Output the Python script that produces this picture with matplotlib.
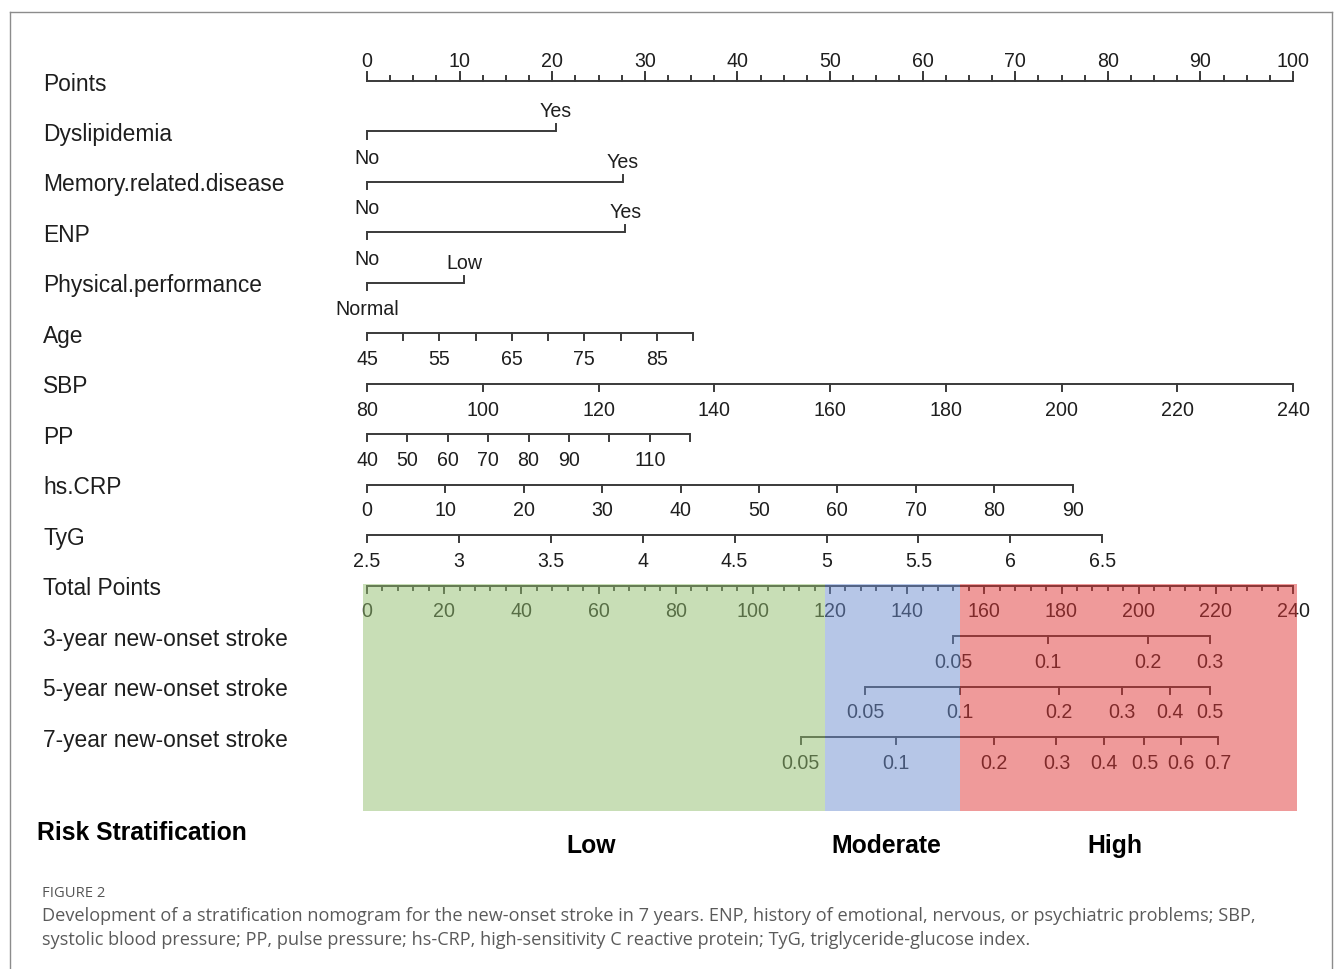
# nomogram for new-onset stroke with risk stratification bands
import numpy as np
import matplotlib.pyplot as plt
from matplotlib.patches import Rectangle

plt.rcParams['font.family'] = ['Liberation Sans', 'DejaVu Sans']

##### values #####
row_names = ['Points', 'Dyslipidemia', 'Memory.related.disease', 'ENP',
             'Physical.performance', 'Age', 'SBP', 'PP', 'hs.CRP', 'TyG',
             'Total Points', '3-year new-onset stroke',
             '5-year new-onset stroke', '7-year new-onset stroke']

points_major = np.arange(0, 101, 10)
points_minor = np.arange(0, 100.01, 2.5)

# categorical predictors: levels and their points
dys_levels = ['No', 'Yes']
dys_points = [0, 20.4]
mem_levels = ['No', 'Yes']
mem_points = [0, 27.6]
enp_levels = ['No', 'Yes']
enp_points = [0, 27.9]
phys_levels = ['Normal', 'Low']
phys_points = [0, 10.5]

# continuous predictors: tick values, tick labels, points at the last tick
age_ticks = [45, 50, 55, 60, 65, 70, 75, 80, 85, 90]
age_labels = ['45', '', '55', '', '65', '', '75', '', '85', '']
age_max_points = 35.2

sbp_ticks = [80, 100, 120, 140, 160, 180, 200, 220, 240]
sbp_labels = ['80', '100', '120', '140', '160', '180', '200', '220', '240']
sbp_max_points = 100

pp_ticks = [40, 50, 60, 70, 80, 90, 100, 110, 120]
pp_labels = ['40', '50', '60', '70', '80', '90', '', '110', '']
pp_max_points = 34.9

crp_ticks = [0, 10, 20, 30, 40, 50, 60, 70, 80, 90]
crp_labels = ['0', '10', '20', '30', '40', '50', '60', '70', '80', '90']
crp_max_points = 76.2

tyg_ticks = [2.5, 3, 3.5, 4, 4.5, 5, 5.5, 6, 6.5]
tyg_labels = ['2.5', '3', '3.5', '4', '4.5', '5', '5.5', '6', '6.5']
tyg_max_points = 79.4

total_max = 240
total_major = np.arange(0, 241, 20)
total_minor = np.arange(0, 241, 4)

# risk scales: total points at each probability label
risk3_labels = ['0.05', '0.1', '0.2', '0.3']
risk3_total = [152.0, 176.6, 202.4, 218.4]
risk5_labels = ['0.05', '0.1', '0.2', '0.3', '0.4', '0.5']
risk5_total = [129.2, 153.8, 179.4, 195.7, 208.0, 218.4]
risk7_labels = ['0.05', '0.1', '0.2', '0.3', '0.4', '0.5', '0.6', '0.7']
risk7_total = [112.4, 137.1, 162.6, 178.7, 191.0, 201.5, 211.0, 220.5]

# risk strata on the total points scale
strata_names = ['Low', 'Moderate', 'High']
strata_cuts = [0, 118.7, 153.8, 240]
strata_colors = ['#93bf6f', '#6f8fd1', '#e13737']

caption_head = 'FIGURE 2'
caption_lines = [
    'Development of a stratification nomogram for the new-onset stroke in 7 years. '
    'ENP, history of emotional, nervous, or psychiatric problems; SBP,',
    'systolic blood pressure; PP, pulse pressure; hs-CRP, high-sensitivity C '
    'reactive protein; TyG, triglyceride-glucose index.']

##### layout #####
W, H = 1338, 970
X0, PPX = 367, 9.26      # pixel of 0 points, pixels per point
Y0, ROW = 82, 50.46      # pixel of first row, pixels per row

def px_x(p):
    return (p - X0) / PPX

def px_y(p):
    return (p - Y0) / ROW

LINE = '#3a3a3a'
TXT = '#1e1e1e'
LW = 1.4
TICK = 0.14
FS_TICK = 14.1
FS_NAME = 16.4

fig = plt.figure(figsize=(W / 100, H / 100), dpi=100)
ax = fig.add_axes([0, 0, 1, 1])
ax.set_xlim(px_x(0), px_x(W))
ax.set_ylim(px_y(H), px_y(0))
ax.axis('off')

def scale_pts(vals, max_points):
    vals = np.asarray(vals, dtype=float)
    return (vals - vals[0]) / (vals[-1] - vals[0]) * max_points

def hline(x, row):
    ax.plot([x[0], x[-1]], [row, row], color=LINE, lw=LW, solid_capstyle='butt')

def ticks_down(x, row, labels, length=TICK):
    hline(x, row)
    for xi, lab in zip(x, labels):
        ax.plot([xi, xi], [row, row + length], color=LINE, lw=LW)
        if lab:
            ax.text(xi, row + 0.61, lab, ha='center', va='baseline',
                    fontsize=FS_TICK, color=TXT)

# left labels
for i, name in enumerate(row_names):
    ax.text(px_x(43), i + 0.17, name, ha='left', va='baseline',
            fontsize=FS_NAME, color=TXT)

# Points axis, ticks up, labels above
hline(points_major, 0)
for v in points_minor:
    ax.plot([v, v], [0, -0.09], color=LINE, lw=LW)
for v in points_major:
    ax.plot([v, v], [0, -0.17], color=LINE, lw=LW)
    ax.text(v, -0.3, str(v), ha='center', va='baseline',
            fontsize=FS_TICK, color=TXT)

# categorical rows
cats = [(dys_levels, dys_points), (mem_levels, mem_points),
        (enp_levels, enp_points), (phys_levels, phys_points)]
for k, (levels, pts) in enumerate(cats):
    row = k + 1
    hline(pts, row)
    ax.plot([pts[0], pts[0]], [row, row + TICK], color=LINE, lw=LW)
    ax.text(pts[0], row + 0.62, levels[0], ha='center', va='baseline',
            fontsize=FS_TICK, color=TXT)
    ax.plot([pts[1], pts[1]], [row, row - TICK], color=LINE, lw=LW)
    ax.text(pts[1], row - 0.3, levels[1], ha='center', va='baseline',
            fontsize=FS_TICK, color=TXT)

# continuous rows
conts = [(age_ticks, age_labels, age_max_points),
         (sbp_ticks, sbp_labels, sbp_max_points),
         (pp_ticks, pp_labels, pp_max_points),
         (crp_ticks, crp_labels, crp_max_points),
         (tyg_ticks, tyg_labels, tyg_max_points)]
for k, (tv, tl, mp) in enumerate(conts):
    ticks_down(scale_pts(tv, mp), k + 5, tl)

# Total Points axis
tp = lambda v: np.asarray(v, dtype=float) / total_max * 100
hline(tp(total_major), 10)
for v in total_minor:
    ax.plot([tp(v), tp(v)], [10, 10 + 0.09], color=LINE, lw=LW)
ticks_down(tp(total_major), 10, [str(v) for v in total_major])

# risk rows
for k, (lab, tot) in enumerate([(risk3_labels, risk3_total),
                                (risk5_labels, risk5_total),
                                (risk7_labels, risk7_total)]):
    ticks_down(tp(tot), 11 + k, lab)

# strata bands drawn over the scales
pad = 1.0
top, bottom = px_y(585), px_y(812)
for i, col in enumerate(strata_colors):
    a = strata_cuts[i] - (pad if i == 0 else 0)
    b = strata_cuts[i + 1] + (pad if i == len(strata_colors) - 1 else 0)
    ax.add_patch(Rectangle((tp(a), top), tp(b) - tp(a), bottom - top,
                           facecolor=col, edgecolor='none', alpha=0.5, zorder=5))

ax.text(px_x(37), px_y(840), 'Risk Stratification', ha='left', va='baseline',
        fontsize=17.8, fontweight='bold', color='black')
strata_mid = [591, 886, 1115]
for name, xm in zip(strata_names, strata_mid):
    ax.text(px_x(xm), px_y(853), name, ha='center', va='baseline',
            fontsize=17.8, fontweight='bold', color='black')

# caption
fig.text(42 / W, 1 - 897 / H, caption_head, ha='left', va='baseline',
         fontsize=10.6, color='#555555', family=['Open Sans', 'DejaVu Sans'])
for j, line in enumerate(caption_lines):
    fig.text(42 / W, 1 - (921 + 24.5 * j) / H, line, ha='left', va='baseline',
             fontsize=13.05, color='#5a5a5a', family=['Open Sans', 'DejaVu Sans'])

# frame around the figure panel
fx0, fx1, fy = 9.5 / W, 1331.5 / W, 1 - 12.5 / H
for xs, ys in [([fx0, fx0], [0, fy]), ([fx0, fx1], [fy, fy]), ([fx1, fx1], [fy, 0])]:
    fig.add_artist(plt.Line2D(xs, ys, color='#8c8c8c', lw=1.0, transform=fig.transFigure))

fig.savefig('out.png', dpi=100, facecolor='white')
